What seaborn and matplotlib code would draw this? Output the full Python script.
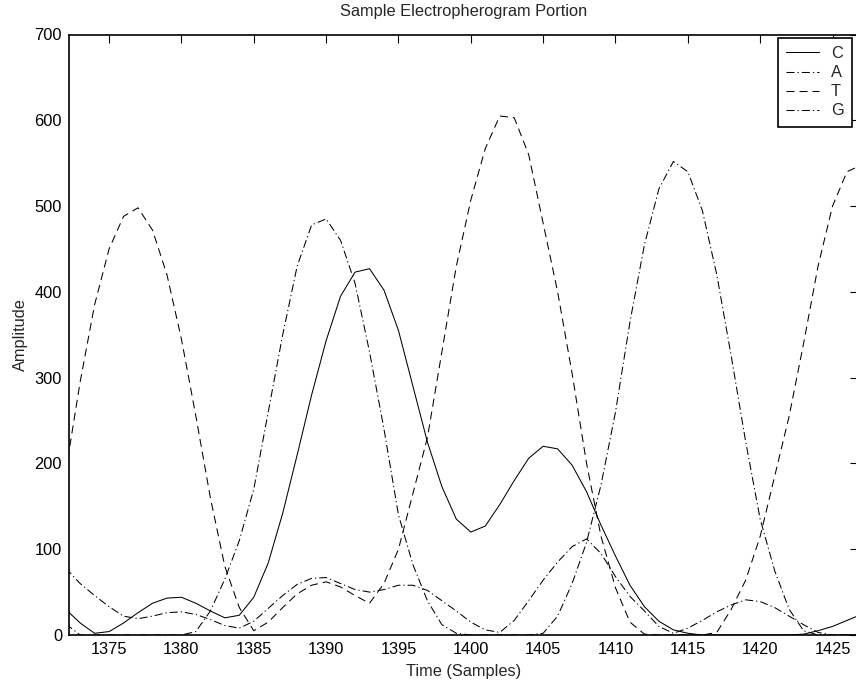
import matplotlib
matplotlib.use("Agg")
import matplotlib.pyplot as plt
import numpy as np
import pandas as pd
import seaborn as sns

# Sample index of each trace point
samples = list(range(1372, 1428))

# Trace amplitudes per base, one value per sample
c_trace = [30, 14, 2, 4, 14, 26, 37, 43, 44, 37, 28, 20, 23, 44, 84, 142, 210, 280,
           343, 395, 423, 427, 402, 355, 290, 225, 173, 135, 120, 127, 152, 180, 206,
           220, 217, 198, 167, 128, 92, 58, 33, 16, 6, 2, 0, 0, 0, 0, 0, 0, 0, 1, 5,
           10, 17, 24]
a_trace = [13, 0, 0, 0, 0, 0, 0, 0, 0, 4, 28, 65, 110, 170, 260, 350, 430, 478,
           485, 460, 410, 330, 240, 140, 82, 40, 12, 2, 0, 0, 0, 0, 0, 2, 22, 60,
           108, 175, 260, 365, 455, 520, 552, 540, 495, 420, 325, 225, 135, 75, 30,
           5, 0, 0, 0, 0]
t_trace = [190, 295, 385, 450, 488, 498, 472, 420, 345, 255, 160, 80, 32, 5, 15,
           32, 48, 58, 62, 56, 46, 37, 60, 100, 165, 230, 330, 430, 507, 567, 605,
           603, 560, 480, 400, 305, 200, 115, 55, 15, 1, 0, 0, 0, 0, 3, 30, 64, 115,
           185, 255, 340, 430, 500, 540, 548]
g_trace = [78, 60, 46, 33, 22, 19, 22, 26, 27, 24, 18, 11, 8, 16, 31, 46, 59, 66,
           67, 60, 53, 50, 53, 58, 58, 52, 40, 28, 15, 6, 3, 17, 40, 64, 85, 103,
           112, 95, 68, 45, 28, 10, 2, 8, 17, 27, 35, 41, 39, 32, 22, 12, 3, 0, 0, 0]

bases = ["C", "A", "T", "G"]
y_ticks = list(range(0, 701, 100))
x_ticks = list(range(1375, 1426, 5))

df = pd.DataFrame({
    "Time": samples * 4,
    "Amplitude": c_trace + a_trace + t_trace + g_trace,
    "Base": [b for b in bases for _ in samples],
})

sns.set_style("white")
plt.rcParams["font.family"] = ["Liberation Sans", "DejaVu Sans"]
FS = 11.8

fig = plt.figure(figsize=(8.56, 6.83), dpi=100)
W, H = 856, 683
ax = fig.add_axes([69 / W, (H - 635) / H, (858 - 69) / W, (635 - 34.5) / H])

dash_styles = {"C": "", "A": (7.7, 2.9, 1.2, 2.9), "T": (7.7, 4.8),
               "G": (7.7, 2.9, 1.2, 2.9)}
sns.lineplot(data=df, x="Time", y="Amplitude", style="Base", style_order=bases,
             dashes=dash_styles, color="black", linewidth=0.75, estimator=None,
             legend=False, ax=ax)

ax.set_xlim(1372.23, 1426.76)
ax.set_ylim(0, 700)
ax.set_xticks(x_ticks)
ax.set_yticks(y_ticks)
ax.tick_params(direction="in", top=True, right=True, length=6, width=0.8,
               labelsize=FS, pad=5, colors="black")
for s in ax.spines.values():
    s.set_visible(True)
    s.set_color("black")
    s.set_linewidth(1.2)

ax.set_xlabel("Time (Samples)", fontsize=FS, labelpad=5)
ax.set_ylabel("Amplitude", fontsize=FS, labelpad=5)
ax.set_title("Sample Electropherogram Portion", fontsize=FS, pad=13)

leg = ax.legend(ax.lines[:4], bases, loc="upper right",
                bbox_to_anchor=(852 / W, 1 - 38 / H), bbox_transform=fig.transFigure,
                borderaxespad=0, fontsize=FS, handlelength=2.0, handletextpad=0.75,
                labelspacing=0.25, borderpad=0.5, fancybox=False, framealpha=1,
                edgecolor="black")
leg.get_frame().set_linewidth(1.2)

fig.savefig("out.png", dpi=100)
